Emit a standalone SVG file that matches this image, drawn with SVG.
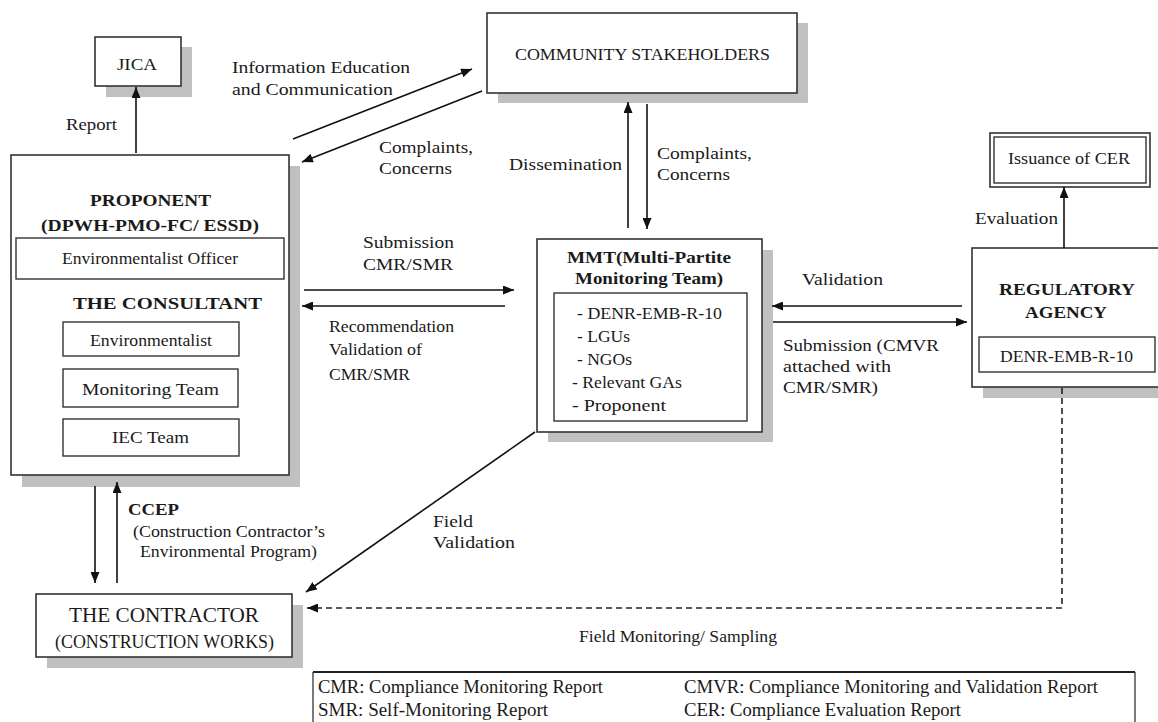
<svg xmlns="http://www.w3.org/2000/svg" width="1158" height="722" viewBox="0 0 1158 722">
<style>
text{font-family:"Liberation Serif","Times New Roman",serif;fill:#1a1a1a;font-size:17px}
.b{font-weight:bold}
.box{fill:#fff;stroke:#333;stroke-width:1.6}
.in{fill:#fff;stroke:#333;stroke-width:1.4}
.sh{fill:#c0c0c0}
.ln{stroke:#111;stroke-width:1.6;fill:none}
.dash{stroke:#222;stroke-width:1.6;fill:none;stroke-dasharray:6 4}
.lg{stroke:#222;fill:none}
</style>
<defs>
<marker id="ah" markerUnits="userSpaceOnUse" markerWidth="11" markerHeight="9" refX="11" refY="4.5" orient="auto">
<path d="M0,0 L11,4.5 L0,9 z" fill="#111"/>
</marker>
</defs>
<rect width="1158" height="722" fill="#fff"/>

<g id="jica">
<rect class="sh" x="106" y="47" width="86" height="50"/>
<rect class="box" x="95" y="37" width="86" height="49"/>
<text x="117" y="70" textLength="40" lengthAdjust="spacingAndGlyphs">JICA</text>
</g>

<g id="community">
<rect class="sh" x="498" y="23" width="310" height="80"/>
<rect class="box" x="487" y="13" width="310" height="80"/>
<text x="515" y="60" textLength="255" lengthAdjust="spacingAndGlyphs">COMMUNITY STAKEHOLDERS</text>
</g>

<g id="proponent">
<rect class="sh" x="22" y="166" width="278" height="321"/>
<rect class="box" x="11" y="155" width="278" height="320"/>
<text class="b" x="90" y="206" textLength="121" lengthAdjust="spacingAndGlyphs">PROPONENT</text>
<text class="b" x="41" y="231" textLength="218" lengthAdjust="spacingAndGlyphs">(DPWH-PMO-FC/ ESSD)</text>
<rect class="in" x="16" y="238" width="268" height="41"/>
<text x="62" y="264" textLength="176" lengthAdjust="spacingAndGlyphs">Environmentalist Officer</text>
<text class="b" x="73" y="309" textLength="189" lengthAdjust="spacingAndGlyphs">THE CONSULTANT</text>
<rect class="in" x="63" y="322" width="176" height="34"/>
<text x="90" y="346" textLength="122" lengthAdjust="spacingAndGlyphs">Environmentalist</text>
<rect class="in" x="63" y="369" width="175" height="38"/>
<text x="82" y="395" textLength="137" lengthAdjust="spacingAndGlyphs">Monitoring Team</text>
<rect class="in" x="63" y="419" width="176" height="37"/>
<text x="112" y="443" textLength="77" lengthAdjust="spacingAndGlyphs">IEC Team</text>
</g>

<g id="mmt">
<rect class="sh" x="548" y="250" width="225" height="192"/>
<rect class="box" x="537" y="239" width="225" height="193"/>
<text class="b" x="567" y="263" textLength="164" lengthAdjust="spacingAndGlyphs">MMT(Multi-Partite</text>
<text class="b" x="575" y="284" textLength="148" lengthAdjust="spacingAndGlyphs">Monitoring Team)</text>
<rect class="in" x="554" y="293" width="193" height="128"/>
<text x="577" y="319" textLength="145" lengthAdjust="spacingAndGlyphs">- DENR-EMB-R-10</text>
<text x="577" y="342" textLength="53" lengthAdjust="spacingAndGlyphs">- LGUs</text>
<text x="577" y="365" textLength="55" lengthAdjust="spacingAndGlyphs">- NGOs</text>
<text x="572" y="388" textLength="110" lengthAdjust="spacingAndGlyphs">- Relevant GAs</text>
<text x="572" y="411" textLength="94" lengthAdjust="spacingAndGlyphs">- Proponent</text>
</g>

<g id="cer">
<rect class="box" x="990" y="133" width="160" height="54"/>
<rect class="in" x="994" y="137" width="152" height="46"/>
<text x="1008" y="164" textLength="122" lengthAdjust="spacingAndGlyphs">Issuance of CER</text>
</g>

<g id="regulatory">
<rect class="sh" x="983" y="259" width="190" height="139"/>
<rect class="box" x="972" y="248" width="190" height="139"/>
<text class="b" x="999" y="295" textLength="136" lengthAdjust="spacingAndGlyphs">REGULATORY</text>
<text class="b" x="1025" y="318" textLength="82" lengthAdjust="spacingAndGlyphs">AGENCY</text>
<rect class="in" x="979" y="337" width="176" height="35"/>
<text x="1000" y="362" textLength="133" lengthAdjust="spacingAndGlyphs">DENR-EMB-R-10</text>
</g>

<g id="contractor">
<rect class="sh" x="47" y="605" width="256" height="63"/>
<rect class="box" x="36" y="594" width="256" height="63"/>
<text x="69" y="622" style="font-size:20px" textLength="190" lengthAdjust="spacingAndGlyphs">THE CONTRACTOR</text>
<text x="55" y="648" style="font-size:18px" textLength="219" lengthAdjust="spacingAndGlyphs">(CONSTRUCTION WORKS)</text>
</g>

<g id="connectors">
<line class="ln" x1="136" y1="153" x2="136" y2="87" marker-end="url(#ah)"/>
<line class="ln" x1="293" y1="139" x2="472" y2="69" marker-end="url(#ah)"/>
<line class="ln" x1="482" y1="91" x2="302" y2="162" marker-end="url(#ah)"/>
<line class="ln" x1="628" y1="228" x2="628" y2="102" marker-end="url(#ah)"/>
<line class="ln" x1="647" y1="104" x2="647" y2="229" marker-end="url(#ah)"/>
<line class="ln" x1="304" y1="290" x2="514" y2="290" marker-end="url(#ah)"/>
<line class="ln" x1="505" y1="306" x2="302" y2="306" marker-end="url(#ah)"/>
<line class="ln" x1="962" y1="306" x2="772" y2="306" marker-end="url(#ah)"/>
<line class="ln" x1="773" y1="322" x2="967" y2="322" marker-end="url(#ah)"/>
<line class="ln" x1="1064" y1="248" x2="1064" y2="187" marker-end="url(#ah)"/>
<line class="ln" x1="535" y1="432" x2="306" y2="592" marker-end="url(#ah)"/>
<line class="ln" x1="95" y1="486" x2="95" y2="583" marker-end="url(#ah)"/>
<line class="ln" x1="117" y1="583" x2="117" y2="482" marker-end="url(#ah)"/>
<polyline class="dash" points="1062,388 1062,608 307,608" marker-end="url(#ah)"/>
</g>

<g id="labels">
<text x="66" y="130" textLength="51" lengthAdjust="spacingAndGlyphs">Report</text>
<text x="232" y="73" textLength="178" lengthAdjust="spacingAndGlyphs">Information Education</text>
<text x="232" y="95" textLength="161" lengthAdjust="spacingAndGlyphs">and Communication</text>
<text x="379" y="153" textLength="94" lengthAdjust="spacingAndGlyphs">Complaints,</text>
<text x="379" y="174" textLength="73" lengthAdjust="spacingAndGlyphs">Concerns</text>
<text x="509" y="170" textLength="113" lengthAdjust="spacingAndGlyphs">Dissemination</text>
<text x="657" y="159" textLength="95" lengthAdjust="spacingAndGlyphs">Complaints,</text>
<text x="657" y="180" textLength="73" lengthAdjust="spacingAndGlyphs">Concerns</text>
<text x="363" y="248" textLength="91" lengthAdjust="spacingAndGlyphs">Submission</text>
<text x="363" y="270" textLength="90" lengthAdjust="spacingAndGlyphs">CMR/SMR</text>
<text x="329" y="332" textLength="125" lengthAdjust="spacingAndGlyphs">Recommendation</text>
<text x="329" y="355" textLength="93" lengthAdjust="spacingAndGlyphs">Validation of</text>
<text x="329" y="380" textLength="81" lengthAdjust="spacingAndGlyphs">CMR/SMR</text>
<text x="802" y="285" textLength="81" lengthAdjust="spacingAndGlyphs">Validation</text>
<text x="783" y="351" textLength="156" lengthAdjust="spacingAndGlyphs">Submission (CMVR</text>
<text x="783" y="372" textLength="108" lengthAdjust="spacingAndGlyphs">attached with</text>
<text x="783" y="393" textLength="95" lengthAdjust="spacingAndGlyphs">CMR/SMR)</text>
<text x="975" y="224" textLength="83" lengthAdjust="spacingAndGlyphs">Evaluation</text>
<text class="b" x="128" y="515" textLength="51" lengthAdjust="spacingAndGlyphs">CCEP</text>
<text x="133" y="537" textLength="192" lengthAdjust="spacingAndGlyphs">(Construction Contractor’s</text>
<text x="140" y="557" textLength="177" lengthAdjust="spacingAndGlyphs">Environmental Program)</text>
<text x="433" y="527" textLength="40" lengthAdjust="spacingAndGlyphs">Field</text>
<text x="433" y="548" textLength="82" lengthAdjust="spacingAndGlyphs">Validation</text>
<text x="579" y="642" textLength="198" lengthAdjust="spacingAndGlyphs">Field Monitoring/ Sampling</text>
</g>

<g id="legend">
<line class="lg" x1="313" y1="672" x2="1135" y2="672" stroke-width="2"/>
<line class="lg" x1="313" y1="672" x2="313" y2="722" stroke-width="1.2"/>
<line class="lg" x1="1135" y1="672" x2="1135" y2="722" stroke-width="1.2"/>
<text x="318" y="693" style="font-size:18px" textLength="285" lengthAdjust="spacingAndGlyphs">CMR: Compliance Monitoring Report</text>
<text x="318" y="716" style="font-size:18px" textLength="230" lengthAdjust="spacingAndGlyphs">SMR: Self-Monitoring Report</text>
<text x="684" y="693" style="font-size:18px" textLength="414" lengthAdjust="spacingAndGlyphs">CMVR: Compliance Monitoring and Validation Report</text>
<text x="684" y="716" style="font-size:18px" textLength="277" lengthAdjust="spacingAndGlyphs">CER: Compliance Evaluation Report</text>
</g>
</svg>
